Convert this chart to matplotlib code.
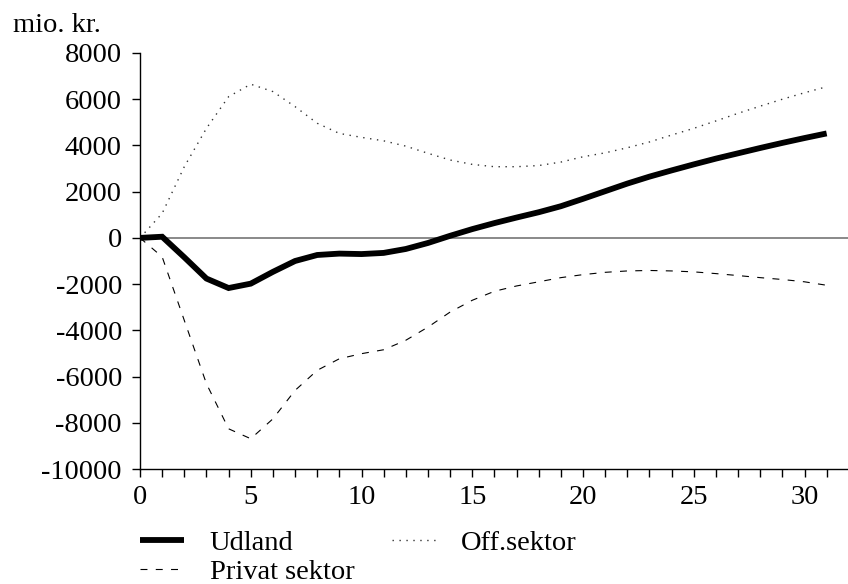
import matplotlib
matplotlib.use("Agg")
import matplotlib.pyplot as plt
import numpy as np

plt.rcParams['font.family'] = ['Liberation Serif', 'DejaVu Serif']
plt.rcParams['lines.scale_dashes'] = False

years = list(range(0, 32))
udland = [0, 50, -840, -1760, -2170, -1980, -1470, -1000, -740, -680, -700, -650,
          -480, -220, 90, 380, 640, 880, 1110, 1370, 1690, 2020, 2350, 2650, 2920,
          3180, 3430, 3660, 3890, 4110, 4320, 4520]
privat = [0, -820, -3570, -6310, -8260, -8690, -7830, -6600, -5730, -5230, -5010,
          -4840, -4430, -3860, -3210, -2700, -2310, -2080, -1900, -1720, -1590,
          -1490, -1430, -1410, -1430, -1470, -1545, -1630, -1720, -1800, -1900, -2050]
off = [0, 1060, 3080, 4740, 6110, 6650, 6330, 5680, 4960, 4520, 4350, 4200, 3970,
       3660, 3370, 3180, 3080, 3080, 3130, 3280, 3510, 3680, 3900, 4150, 4450, 4740,
       5060, 5390, 5700, 6000, 6280, 6540]

labels = ["Udland", "Privat sektor", "Off.sektor"]
y_ticks = list(range(-10000, 8001, 2000))
x_ticklabels = [0, 5, 10, 15, 20, 25, 30]

FS = 20.5
W, H = 848, 584
fig = plt.figure(figsize=(W / 100, H / 100), dpi=100)
left, right, bottom, top = 140, 848, 469, 53
ax = fig.add_axes([left / W, 1 - bottom / H, (right - left) / W, (bottom - top) / H])

ax.axhline(0, color='#808080', lw=1.3, zorder=1)
ax.plot(years, udland, color='black', lw=4.2, solid_capstyle='butt',
        solid_joinstyle='miter', label=labels[0], zorder=3)
ax.plot(years, privat, color='black', lw=0.8, dashes=(5, 6), label=labels[1], zorder=2)
ax.plot(years, off, color='#333333', lw=1.0, dashes=(1, 4), label=labels[2], zorder=2)

ax.set_xlim(0, (right - left) / 22.15)
ax.set_ylim(-10000, 8000)
ax.set_yticks(y_ticks)
ax.set_yticklabels([str(v) for v in y_ticks])
ax.set_xticks(years)
ax.set_xticklabels([str(v) if v in x_ticklabels else '' for v in years])

for s in ['top', 'right']:
    ax.spines[s].set_visible(False)
for s in ['left', 'bottom']:
    ax.spines[s].set_linewidth(1.0)
    ax.spines[s].set_color('black')

ax.tick_params(axis='both', labelsize=FS, colors='black', width=1.0)
ax.tick_params(axis='y', direction='out', length=6, pad=7)
ax.tick_params(axis='x', direction='out', length=6, pad=5.5)

fig.text(13 / W, 1 - 32 / H, "mio. kr.", fontsize=FS, ha='left', va='baseline')

handles, labs = ax.get_legend_handles_labels()
fig.legend(handles, labs, loc='upper left', bbox_to_anchor=(140 / W, 1 - 530 / H),
           ncol=2, frameon=False, fontsize=FS, borderpad=0, borderaxespad=0,
           handlelength=1.55, handletextpad=0.9, columnspacing=1.3, labelspacing=0.1)

fig.savefig("out.png", dpi=100)
